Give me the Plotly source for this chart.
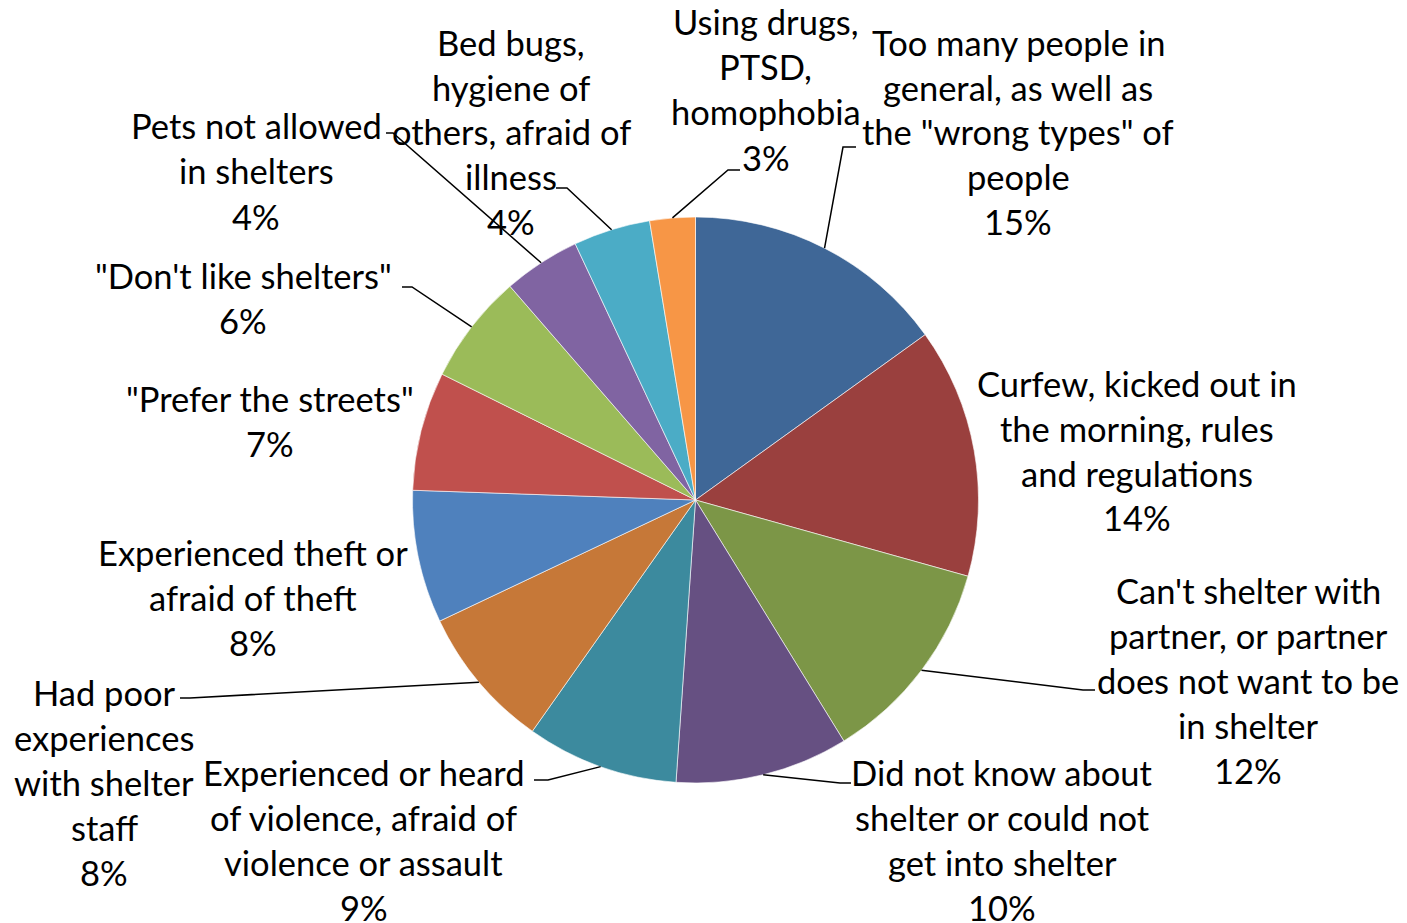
import math
import plotly.graph_objects as go

# ---- data ----
categories = [
    "Too many people in\ngeneral, as well as\nthe \"wrong types\" of\npeople",
    "Curfew, kicked out in\nthe morning, rules\nand regulations",
    "Can't shelter with\npartner, or partner\ndoes not want to be\nin shelter",
    "Did not know about\nshelter or could not\nget into shelter",
    "Experienced or heard\nof violence, afraid of\nviolence or assault",
    "Had poor\nexperiences\nwith shelter\nstaff",
    "Experienced theft or\nafraid of theft",
    "\"Prefer the streets\"",
    "\"Don't like shelters\"",
    "Pets not allowed\nin shelters",
    "Bed bugs,\nhygiene of\nothers, afraid of\nillness",
    "Using drugs,\nPTSD,\nhomophobia",
]
values = [15.1, 14.3, 11.9, 9.9, 8.7, 8.2, 7.6, 6.8, 6.3, 4.4, 4.4, 2.6]
colors = ["#3F6797", "#9A403E", "#7C9647", "#665082", "#3C8A9E", "#C67838",
          "#4F81BD", "#C0504D", "#9BBB59", "#8064A2", "#4BACC6", "#F79646"]

# ---- layout (pixels of the page) ----
W, H = 1407, 923
OFF = 8  # page body margin
CX, CY, R = 695.5, 500, 283
FONT = "Lato"
FS = 34.5
LINE_GAP = 45

# label centre x and first-line centre y
label_pos = [(1018, 42), (1137, 383), (1248, 590), (1002, 772), (364, 772),
             (104, 692), (253, 552), (270, 398), (243, 275), (256, 126),
             (511, 42), (766, 22)]
# leader elbows: (elbow_x, elbow_y, end_x) or None
leaders = [(843, 147, 856), None, (1083, 690, 1095), (840, 783, 851),
           (548, 780, 534), (190, 698, 180), None, None, (412, 287, 402),
           (393, 133, 386), (567, 188, 556), (728, 170, 740)]


def px(x):
    return (x - OFF) / W


def py(y):
    return 1 - (y - OFF) / H


fig = go.Figure(go.Pie(
    values=values,
    labels=[c.replace("\n", " ") for c in categories],
    sort=False, direction="clockwise", rotation=0,
    marker=dict(colors=colors, line=dict(color="white", width=0.6)),
    textinfo="none", hoverinfo="skip", showlegend=False,
    domain=dict(x=[px(CX - R), px(CX + R)], y=[py(CY + R), py(CY - R)]),
))

total = sum(values)
annotations = []
shapes = []
cum = 0.0
for i, (cat, v) in enumerate(zip(categories, values)):
    pct = "%d%%" % round(v / total * 100)
    lines = cat.split("\n") + [pct]
    lx, ly = label_pos[i]
    for k, t in enumerate(lines):
        annotations.append(dict(
            x=px(lx), y=py(ly + k * LINE_GAP), xref="paper", yref="paper",
            text=t, showarrow=False, xanchor="center", yanchor="middle",
            font=dict(family=FONT, size=FS, color="black")))
    mid = (cum + v / 2) / total * 2 * math.pi
    cum += v
    if leaders[i] is not None:
        ex, ey, tx = leaders[i]
        ax = CX + R * math.sin(mid)
        ay = CY - R * math.cos(mid)
        path = "M %f %f L %f %f L %f %f" % (px(ax), py(ay), px(ex), py(ey), px(tx), py(ey))
        shapes.append(dict(type="path", path=path, xref="paper", yref="paper",
                           line=dict(color="black", width=1.5)))

fig.update_layout(
    width=W, height=H, margin=dict(l=0, r=0, t=0, b=0),
    paper_bgcolor="white", plot_bgcolor="white",
    annotations=annotations, shapes=shapes,
)
fig.write_html("out.html")
